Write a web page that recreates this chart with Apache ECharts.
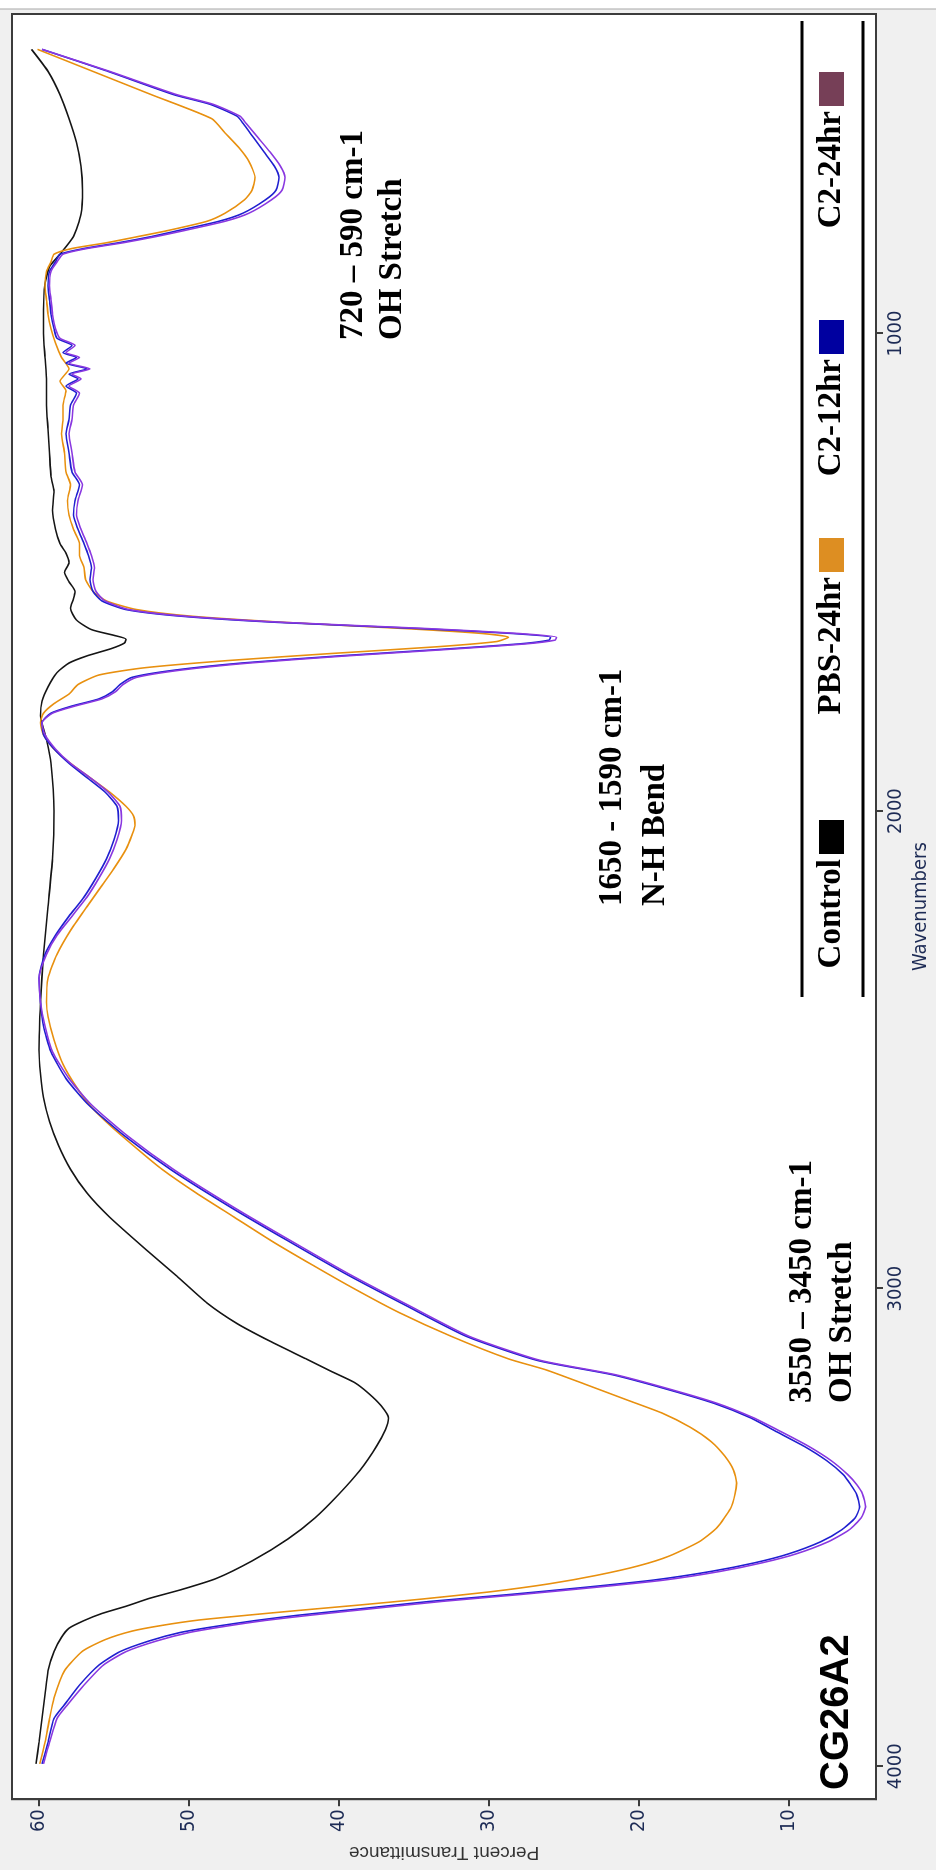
<!DOCTYPE html>
<html><head><meta charset="utf-8">
<script src="https://cdn.jsdelivr.net/npm/echarts@6/dist/echarts.min.js"></script>
<style>
html,body{margin:0;padding:0;width:936px;height:1870px;overflow:hidden;background:#f0f0f0;}
#chart{position:absolute;left:0;top:0;width:1870px;height:936px;transform-origin:0 0;transform:translate(0,1870px) rotate(-90deg);}
</style></head><body><div id="chart"></div>
<script>
// ---- data: [wavenumber (cm-1), percent transmittance] ----
const seriesNames = ['Control', 'PBS-24hr', 'C2-12hr', 'C2-24hr'];
const wavenumberTicks = [1000, 2000, 3000, 4000];
const transmittanceTicks = [10, 20, 30, 40, 50, 60];

const control = [
[3995,60.2],[3950,60.0],[3900,59.8],[3850,59.6],[3800,59.4],[3760,59.0],[3730,58.5],[3711,58.0],[3695,57.0],[3680,55.8],[3665,54.2],[3649,52.7],[3630,50.5],[3607,48.2],[3570,45.8],[3524,43.4],[3480,41.6],[3430,40.0],[3380,38.6],[3330,37.5],[3295,36.9],[3271,36.7],[3245,37.2],[3220,38.0],[3196,39.0],[3172,40.6],[3147,42.2],[3110,44.6],[3073,46.8],[3030,48.8],[2974,50.8],[2920,52.8],[2850,55.3],[2800,56.8],[2750,57.9],[2700,58.7],[2650,59.3],[2600,59.7],[2550,59.9],[2500,60.0],[2400,59.9],[2300,59.7],[2200,59.4],[2100,59.1],[2000,59.0],[1900,59.2],[1850,59.5],[1800,59.9],[1770,59.8],[1740,59.4],[1710,58.8],[1690,58.0],[1675,56.8],[1660,55.2],[1648,54.3],[1640,54.2],[1632,55.0],[1620,56.5],[1600,57.5],[1575,57.9],[1555,57.7],[1540,57.6],[1520,58.0],[1500,58.3],[1480,58.0],[1460,58.2],[1440,58.6],[1410,58.9],[1370,59.1],[1330,59.0],[1300,59.2],[1250,59.3],[1200,59.4],[1150,59.5],[1100,59.5],[1050,59.6],[1000,59.7],[950,59.7],[896,59.6],[860,59.3],[834,58.6],[797,57.7],[750,57.2],[700,57.1],[650,57.2],[600,57.5],[550,58.0],[500,58.6],[451,59.4],[405,60.5]
];
const pbs24 = [
[3995,59.95],[3950,59.6],[3900,59.3],[3857,59.0],[3800,58.3],[3759,57.1],[3735,55.6],[3717,53.8],[3705,51.8],[3694,49.4],[3684,46.2],[3674,42.8],[3662,38.5],[3650,34.5],[3635,30.0],[3618,26.0],[3600,22.8],[3580,20.0],[3560,18.0],[3530,16.0],[3500,14.8],[3460,13.9],[3430,13.6],[3407,13.5],[3380,13.7],[3350,14.3],[3320,15.2],[3290,16.6],[3260,18.5],[3233,20.8],[3200,23.6],[3170,26.2],[3147,28.7],[3100,32.5],[3050,36.0],[3000,39.0],[2950,41.8],[2900,44.5],[2850,47.0],[2800,49.5],[2750,51.8],[2714,53.2],[2660,55.2],[2620,56.5],[2578,57.5],[2530,58.4],[2479,59.0],[2430,59.4],[2400,59.5],[2350,59.4],[2300,58.8],[2250,57.9],[2200,56.8],[2160,55.9],[2120,55.0],[2080,54.2],[2050,53.8],[2030,53.6],[2010,53.7],[1990,54.2],[1960,55.3],[1930,56.6],[1900,57.9],[1870,59.0],[1840,59.7],[1815,59.9],[1795,59.7],[1775,59.0],[1755,58.0],[1735,57.4],[1715,56.0],[1700,53.0],[1685,47.5],[1670,40.5],[1656,33.5],[1645,29.5],[1636,28.7],[1628,30.5],[1618,35.5],[1605,43.5],[1592,49.8],[1578,53.5],[1560,55.5],[1540,56.4],[1515,56.9],[1490,57.0],[1465,57.3],[1440,57.3],[1410,57.7],[1380,58.0],[1350,58.1],[1317,57.9],[1290,58.2],[1250,58.3],[1210,58.5],[1180,58.4],[1150,58.4],[1120,58.2],[1100,58.6],[1074,58.0],[1050,58.5],[1020,58.9],[990,59.2],[960,59.4],[930,59.5],[900,59.6],[870,59.5],[850,59.2],[834,59.0],[822,57.8],[810,55.5],[797,53.4],[785,51.5],[765,48.8],[748,47.6],[720,46.3],[700,45.8],[673,45.6],[640,46.0],[610,46.7],[580,47.6],[550,48.5],[500,52.5],[450,56.5],[405,60.1]
];
const c2h12 = [
[3995,59.8],[3950,59.4],[3900,59.0],[3871,58.3],[3830,57.3],[3788,56.0],[3760,54.6],[3738,52.7],[3720,50.6],[3707,48.2],[3695,45.6],[3684,42.8],[3670,38.5],[3655,34.0],[3640,28.5],[3625,23.5],[3610,19.0],[3592,15.2],[3574,12.3],[3555,10.0],[3530,7.9],[3505,6.5],[3480,5.6],[3457,5.3],[3430,5.5],[3410,5.9],[3389,6.4],[3360,7.5],[3330,9.0],[3300,10.8],[3270,12.6],[3240,15.0],[3210,18.2],[3180,21.8],[3150,26.8],[3100,31.5],[3036,35.5],[2970,39.5],[2900,43.4],[2830,47.2],[2751,51.2],[2680,54.3],[2615,56.7],[2560,58.2],[2504,59.2],[2450,59.7],[2400,59.9],[2350,60.0],[2300,59.6],[2260,58.9],[2220,58.0],[2180,57.0],[2140,56.2],[2100,55.5],[2060,55.0],[2020,54.7],[1990,54.8],[1960,55.6],[1930,56.8],[1900,58.0],[1870,59.0],[1840,59.7],[1815,59.8],[1795,59.2],[1780,57.8],[1765,56.0],[1750,55.1],[1735,54.6],[1720,53.8],[1705,51.0],[1690,46.5],[1675,40.0],[1662,33.5],[1650,28.0],[1642,26.0],[1636,25.9],[1628,28.5],[1618,34.5],[1605,44.0],[1592,50.5],[1578,54.2],[1560,55.8],[1540,56.4],[1515,56.6],[1490,56.5],[1465,56.7],[1440,57.0],[1410,57.4],[1380,57.7],[1350,57.6],[1317,57.3],[1290,57.8],[1250,58.0],[1210,58.2],[1180,58.0],[1150,57.9],[1125,57.5],[1110,58.2],[1095,57.4],[1085,58.0],[1074,56.8],[1062,58.2],[1050,57.5],[1040,58.4],[1025,57.8],[1010,58.8],[990,59.0],[960,59.2],[930,59.3],[900,59.4],[870,59.3],[850,58.9],[834,58.6],[822,57.0],[810,54.7],[797,52.5],[785,50.8],[765,48.0],[748,46.4],[720,44.9],[700,44.2],[673,44.0],[650,44.3],[620,45.0],[590,45.7],[560,46.4],[545,46.8],[520,48.6],[500,51.0],[450,55.5],[405,59.8]
];
const c2h24 = [
[3995,59.7],[3950,59.3],[3900,58.8],[3871,58.1],[3830,57.0],[3788,55.7],[3760,54.2],[3738,52.2],[3720,50.0],[3707,47.6],[3695,45.0],[3684,42.0],[3670,37.8],[3655,33.2],[3640,27.8],[3625,22.8],[3610,18.3],[3592,14.6],[3574,11.8],[3555,9.5],[3530,7.4],[3505,6.0],[3480,5.2],[3457,4.9],[3430,5.1],[3410,5.5],[3389,6.1],[3360,7.2],[3330,8.7],[3300,10.5],[3270,12.4],[3240,14.8],[3210,18.0],[3180,21.6],[3150,26.6],[3100,31.3],[3036,35.3],[2970,39.3],[2900,43.2],[2830,47.0],[2751,51.0],[2680,54.1],[2615,56.5],[2560,58.0],[2504,59.1],[2450,59.6],[2400,59.9],[2350,60.0],[2300,59.5],[2260,58.8],[2220,57.8],[2180,56.8],[2140,56.0],[2100,55.3],[2060,54.8],[2020,54.5],[1990,54.6],[1960,55.4],[1930,56.6],[1900,57.9],[1870,58.9],[1840,59.6],[1815,59.8],[1795,59.1],[1780,57.6],[1765,55.8],[1750,54.9],[1735,54.4],[1720,53.5],[1705,50.6],[1690,46.0],[1675,39.5],[1662,33.0],[1650,27.6],[1642,25.6],[1636,25.5],[1628,28.1],[1618,34.0],[1605,43.6],[1592,50.2],[1578,54.0],[1560,55.6],[1540,56.2],[1515,56.4],[1490,56.3],[1465,56.5],[1440,56.8],[1410,57.2],[1380,57.5],[1350,57.4],[1317,57.1],[1290,57.6],[1250,57.8],[1210,58.0],[1180,57.8],[1150,57.7],[1125,57.3],[1110,58.0],[1095,57.2],[1085,57.8],[1074,56.6],[1062,58.0],[1050,57.3],[1040,58.2],[1025,57.6],[1010,58.6],[990,58.9],[960,59.1],[930,59.2],[900,59.3],[870,59.2],[850,58.8],[834,58.4],[822,56.8],[810,54.4],[797,52.2],[785,50.4],[765,47.6],[748,46.0],[720,44.5],[700,43.8],[673,43.6],[650,43.9],[620,44.6],[590,45.4],[560,46.2],[545,46.6],[520,48.4],[500,50.8],[450,55.4],[405,59.8]
];

const lineColors = ['#151515', '#E8900F', '#2020D0', '#8A38E0'];
const legendColors = ['#000000', '#DD8E22', '#0000A0', '#763F57'];

const annotations = [
  ['3550 \u2013 3450 cm-1', 'OH Stretch'],
  ['1650 - 1590 cm-1', 'N-H Bend'],
  ['720 \u2013 590 cm-1', 'OH Stretch']
];
const sampleTitle = 'CG26A2';

// ---- layout (chart is drawn landscape, then turned a quarter turn) ----
const tickFont = '"Liberation Sans Narrow", "DejaVu Sans Condensed", sans-serif';
const serifBold = 'bold 33px "Liberation Serif", "Times New Roman", serif';
const annoPos = [[467, 802, 842], [964, 612, 655], [1530, 353, 392]];
const legendRight = [820, 538, 320, 72];

const graphic = [
  {type:'rect', z:100, shape:{x:1861, y:0, width:9, height:936}, style:{fill:'#ffffff'}},
  {type:'line', z:100, shape:{x1:1861, y1:0, x2:1861, y2:936}, style:{stroke:'#a8a8a8', lineWidth:1}},
  {type:'line', z:100, shape:{x1:873, y1:802, x2:1849, y2:802}, style:{stroke:'#000', lineWidth:3}},
  {type:'line', z:100, shape:{x1:873, y1:863, x2:1849, y2:863}, style:{stroke:'#000', lineWidth:3}},
  {type:'text', z:100, x:80, y:837, style:{text:sampleTitle, font:'bold 40px "Liberation Sans", Arial, sans-serif', fill:'#000', align:'left', verticalAlign:'middle'}}
];
annotations.forEach((a, i) => {
  const p = annoPos[i];
  graphic.push({type:'text', z:100, x:p[0], y:p[1], style:{text:a[0], font:serifBold, fill:'#000', align:'left', verticalAlign:'middle'}});
  graphic.push({type:'text', z:100, x:p[0], y:p[2], style:{text:a[1], font:serifBold, fill:'#000', align:'left', verticalAlign:'middle'}});
});

const seriesData = [control, pbs24, c2h12, c2h24];
const plainNumber = v => String(v);

const chart = echarts.init(document.getElementById('chart'), null, {renderer:'canvas', width:1870, height:936});
chart.setOption({
  animation:false,
  backgroundColor:'#f0f0f0',
  grid:{left:58, right:14, top:12, bottom:53, show:true, backgroundColor:'#ffffff', borderColor:'#3c3c3c', borderWidth:2},
  xAxis:{
    type:'value', min:331, max:4069, inverse:true,
    axisLine:{show:true, lineStyle:{color:'#3c3c3c', width:2}},
    axisTick:{show:true, inside:false, length:7, customValues:wavenumberTicks, lineStyle:{color:'#3c3c3c', width:2}},
    axisLabel:{customValues:wavenumberTicks, formatter:plainNumber, fontFamily:tickFont, fontSize:20, color:'#1d2b55', margin:10},
    splitLine:{show:false},
    name:'Wavenumbers', nameLocation:'middle', nameGap:34,
    nameTextStyle:{fontFamily:tickFont, fontSize:20, color:'#1d2b55'}
  },
  yAxis:{
    type:'value', min:4.2, max:61.8,
    axisLine:{show:true, lineStyle:{color:'#3c3c3c', width:2}},
    axisTick:{show:true, inside:false, length:7, customValues:transmittanceTicks, lineStyle:{color:'#3c3c3c', width:2}},
    axisLabel:{customValues:transmittanceTicks, formatter:plainNumber, fontFamily:tickFont, fontSize:20, color:'#1d2b55', margin:10},
    splitLine:{show:false},
    name:'Percent Transmittance', nameLocation:'middle', nameRotate:90, nameGap:40,
    nameTextStyle:{fontFamily:'"Liberation Sans", Arial, sans-serif', fontSize:19, color:'#333'}
  },
  legend: seriesNames.map((n, i) => ({
    data:[{name:n, itemStyle:{color:legendColors[i]}}],
    right:legendRight[i], top:815, orient:'horizontal', align:'right',
    icon:'rect', itemWidth:34, itemHeight:25, padding:0, selectedMode:false,
    textStyle:{fontFamily:'"Liberation Serif", "Times New Roman", serif', fontWeight:'bold', fontSize:33, color:'#000'}
  })),
  graphic: graphic,
  series: seriesNames.map((n, i) => ({
    name:n, type:'line', data:seriesData[i], showSymbol:false, symbol:'none',
    smooth:0.2,
    lineStyle:{color:lineColors[i], width:1.6}, itemStyle:{color:lineColors[i]},
    z: 2 + i
  }))
});
</script></body></html>
